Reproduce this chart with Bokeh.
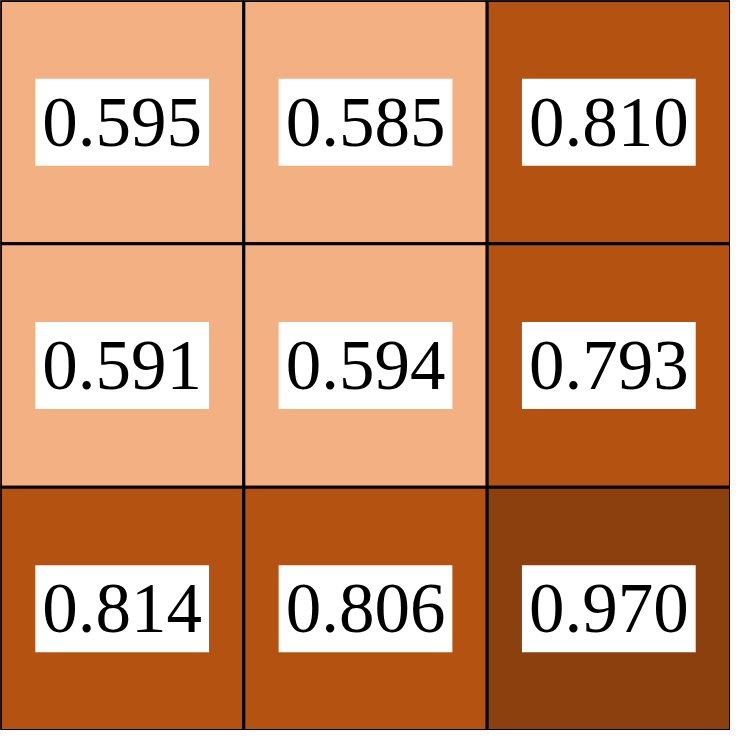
from bokeh.plotting import figure
from bokeh.models import ColumnDataSource, LinearColorMapper
from bokeh.core.properties import value
from bokeh.embed import file_html
from bokeh.resources import INLINE

cols = ["c0", "c1", "c2"]
rows = ["r0", "r1", "r2"]  # top to bottom
values = [
    [0.595, 0.585, 0.810],
    [0.591, 0.594, 0.793],
    [0.814, 0.806, 0.970],
]
palette = ["#F3B082", "#B45212", "#8B400E"]

xs, ys, vs, labels = [], [], [], []
for i, r in enumerate(rows):
    for j, c in enumerate(cols):
        xs.append(c)
        ys.append(r)
        vs.append(values[i][j])
        labels.append(f"{values[i][j]:.3f}")

src = ColumnDataSource(dict(x=xs, y=ys, v=vs, label=labels))
mapper = LinearColorMapper(palette=palette, low=0.5, high=1.0)

p = figure(width=730, height=730, x_range=cols, y_range=list(reversed(rows)),
           output_backend="svg", toolbar_location=None, min_border=0,
           outline_line_color="#222222", outline_line_width=1)
p.axis.visible = False
p.grid.visible = False
p.background_fill_color = "white"

p.rect(x="x", y="y", width=1, height=1, source=src,
       fill_color={"field": "v", "transform": mapper},
       line_color="black", line_width=3)

p.text(x="x", y="y", text="label", source=src,
       text_font=value("Liberation Serif"), text_font_size="71px",
       text_color="black", text_align="center", text_baseline="middle",
       background_fill_color="white", padding=[7, 7, 20, 20])

open("out.html", "w").write(file_html(p, INLINE))
